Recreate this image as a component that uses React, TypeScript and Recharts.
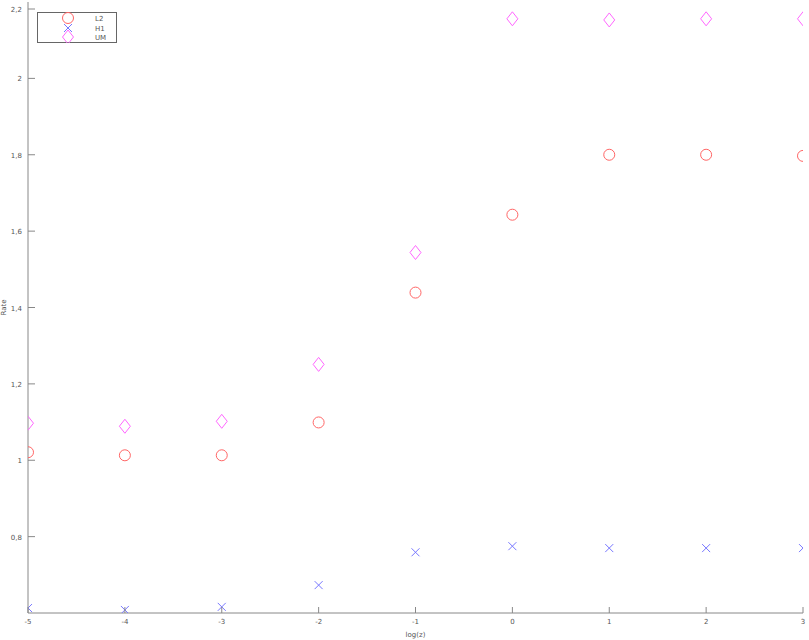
import React from "react";
import { ScatterChart, Scatter, XAxis, YAxis, Label } from "recharts";

const xValues = [-5, -4, -3, -2, -1, 0, 1, 2, 3];
const l2Values = [1.021, 1.013, 1.013, 1.099, 1.439, 1.643, 1.8, 1.8, 1.797];
const h1Values = [0.613, 0.608, 0.616, 0.673, 0.759, 0.775, 0.77, 0.77, 0.77];
const umValues = [1.097, 1.089, 1.102, 1.251, 1.544, 2.156, 2.153, 2.156, 2.156];
const xTicks = [-5, -4, -3, -2, -1, 0, 1, 2, 3];
const yTicks = [0.8, 1, 1.2, 1.4, 1.6, 1.8, 2, 2.2];
const seriesNames = ["L2", "H1", "UM"];

const COLORS = { L2: "#ff6666", H1: "#7777ff", UM: "#ff66ff" };
const AXIS = "#888888";
const TEXT = "#555555";
const FONT = "DejaVu Sans";

const toPoints = (vals: number[]) => xValues.map((x, i) => ({ x, y: vals[i] }));
const l2Data = toPoints(l2Values);
const h1Data = toPoints(h1Values);
const umData = toPoints(umValues);

const CircleShape = (p: any) => (
  <circle cx={p.cx} cy={p.cy} r={5.5} fill="none" stroke={COLORS.L2} strokeWidth={1} />
);
const CrossShape = (p: any) => (
  <g stroke={COLORS.H1} strokeWidth={1}>
    <line x1={p.cx - 4} y1={p.cy - 4} x2={p.cx + 4} y2={p.cy + 4} />
    <line x1={p.cx - 4} y1={p.cy + 4} x2={p.cx + 4} y2={p.cy - 4} />
  </g>
);
const DiamondShape = (p: any) => (
  <polygon
    points={`${p.cx},${p.cy - 7} ${p.cx + 5.5},${p.cy} ${p.cx},${p.cy + 7} ${p.cx - 5.5},${p.cy}`}
    fill="none"
    stroke={COLORS.UM}
    strokeWidth={1}
  />
);

const fmt = (v: number) => String(Math.round(v * 10) / 10).replace(".", ",");

const YTick = (p: any) => (
  <g>
    <line x1={p.x} y1={p.y} x2={p.x + 7} y2={p.y} stroke={AXIS} />
    <text x={p.x - 6} y={p.y} dy={3} textAnchor="end" fontSize={7} fill={TEXT} fontFamily={FONT}>
      {fmt(p.payload.value)}
    </text>
  </g>
);
const XTick = (p: any) => (
  <g>
    <line x1={p.x} y1={p.y} x2={p.x} y2={p.y - 6} stroke={AXIS} />
    <text x={p.x} y={p.y + 11} textAnchor="middle" fontSize={7} fill={TEXT} fontFamily={FONT}>
      {p.payload.value}
    </text>
  </g>
);

const LegendBox = () => (
  <svg width={80} height={31} style={{ display: "block", position: "absolute", left: 37, top: 12 }}>
    <rect x={0.5} y={0.5} width={79} height={30} fill="white" stroke="#666" />
    <circle cx={31} cy={6} r={5.5} fill="none" stroke={COLORS.L2} />
    <g stroke={COLORS.H1}>
      <line x1={27} y1={12} x2={35} y2={20} />
      <line x1={27} y1={20} x2={35} y2={12} />
    </g>
    <polygon points="31,18 36.5,25 31,32 25.5,25" fill="none" stroke={COLORS.UM} />
    <text x={58} y={8.5} fontSize={7} fill={TEXT} fontFamily={FONT}>{seriesNames[0]}</text>
    <text x={58} y={18.5} fontSize={7} fill={TEXT} fontFamily={FONT}>{seriesNames[1]}</text>
    <text x={58} y={27.5} fontSize={7} fill={TEXT} fontFamily={FONT}>{seriesNames[2]}</text>
  </svg>
);

export default function App() {
  return (
    <div style={{ width: 809, height: 640, position: "relative" }}>
      <style>{"body{margin:0}"}</style>
      <ScatterChart width={809} height={640} margin={{ top: 2, right: 6, bottom: 0, left: 0 }}>
        <XAxis
          type="number"
          dataKey="x"
          domain={[-5, 3]}
          ticks={xTicks}
          height={27}
          tickSize={0}
          tickMargin={0}
          tick={<XTick />}
          stroke={AXIS}
          allowDataOverflow
        >
          <Label
            content={(props: any) => {
              const vb = props.viewBox;
              return (
                <text x={vb.x + vb.width / 2} y={637} textAnchor="middle" fontSize={7} fill={TEXT} fontFamily={FONT}>
                  log(z)
                </text>
              );
            }}
          />
        </XAxis>
        <YAxis
          type="number"
          dataKey="y"
          domain={[0.6, 2.2]}
          ticks={yTicks}
          width={28}
          tickSize={0}
          tickMargin={0}
          tick={<YTick />}
          stroke={AXIS}
          allowDataOverflow
        >
          <Label
            content={(props: any) => {
              const vb = props.viewBox;
              const cy = vb.y + vb.height / 2;
              return (
                <text x={6} y={cy} transform={`rotate(-90 6 ${cy})`} textAnchor="middle" fontSize={7} fill={TEXT} fontFamily={FONT}>
                  Rate
                </text>
              );
            }}
          />
        </YAxis>
        <Scatter name="L2" data={l2Data} shape={CircleShape} isAnimationActive={false} />
        <Scatter name="H1" data={h1Data} shape={CrossShape} isAnimationActive={false} />
        <Scatter name="UM" data={umData} shape={DiamondShape} isAnimationActive={false} />
      </ScatterChart>
      <LegendBox />
    </div>
  );
}
